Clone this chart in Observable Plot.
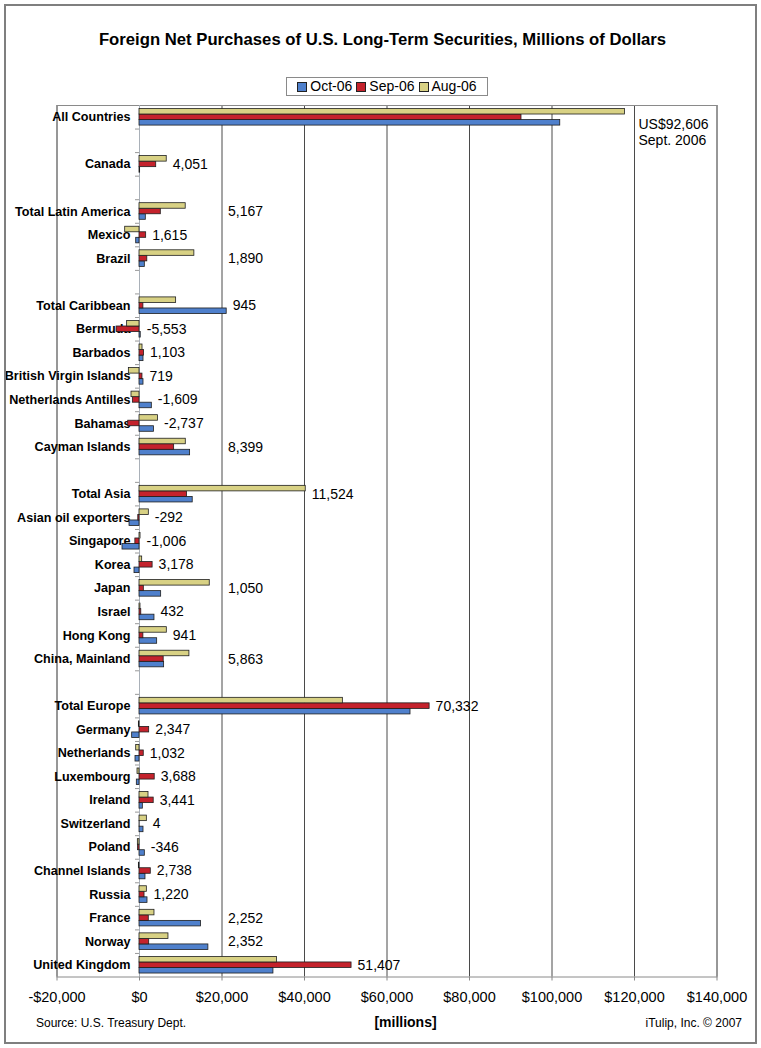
<!DOCTYPE html>
<html><head><meta charset="utf-8">
<script src="https://cdn.jsdelivr.net/npm/d3@7"></script>
<script src="https://cdn.jsdelivr.net/npm/@observablehq/plot@0.6"></script>
<style>
html,body{margin:0;padding:0;background:#fff;}
#wrap{position:relative;width:761px;height:1048px;overflow:hidden;font-family:"Liberation Sans",Arial,sans-serif;color:#000;}
#wrap svg{position:absolute;left:0;top:0;}
.ov{position:absolute;z-index:2;white-space:nowrap;}
#frame{position:absolute;left:4px;top:4px;width:753px;height:1040px;box-sizing:border-box;border:2px solid #7f7f7f;z-index:3;pointer-events:none;}
#title{left:2px;top:30px;width:761px;text-align:center;font-weight:bold;font-size:16.7px;line-height:20px;}
#legend{left:286px;top:77px;width:202px;height:19px;box-sizing:border-box;border:1px solid #8a8a8a;background:#fff;display:flex;align-items:center;justify-content:center;font-size:14px;line-height:17px;}
#legend .it{display:flex;align-items:center;margin:0 2px;}
#legend .sw{width:8px;height:8px;border:1px solid #222;margin-right:3px;}
#source{left:36px;top:1015px;font-size:12px;line-height:16px;}
#unit{left:374px;top:1014px;width:63px;text-align:center;font-size:14px;font-weight:bold;line-height:17px;}
#credit{right:19px;top:1015px;font-size:12px;line-height:16px;}
</style></head>
<body><div id="wrap"><div id="frame"></div></div>
<script>
const categories = ["All Countries", "", "Canada", "", "Total Latin America", "Mexico", "Brazil", "",
  "Total Caribbean", "Bermuda", "Barbados", "British Virgin Islands", "Netherlands Antilles", "Bahamas", "Cayman Islands", "",
  "Total Asia", "Asian oil exporters", "Singapore", "Korea", "Japan", "Israel", "Hong Kong", "China, Mainland", "",
  "Total Europe", "Germany", "Netherlands", "Luxembourg", "Ireland", "Switzerland", "Poland", "Channel Islands", "Russia", "France", "Norway", "United Kingdom"];
const oct06 = [102000, null, 150, null, 1530, -800, 1290, null,
  21140, 300, 970, 970, 2990, 3510, 12270, null,
  12900, -2420, -4120, -1210, 5250, 3630, 4280, 5970, null,
  65700, -1780, -970, -650, 810, 970, 1290, 1450, 1940, 14930, 16700, 32470];
const sep06 = [92606, null, 4051, null, 5167, 1615, 1890, null,
  945, -5553, 1103, 719, -1609, -2737, 8399, null,
  11524, -292, -1006, 3178, 1050, 432, 941, 5863, null,
  70332, 2347, 1032, 3688, 3441, 4, -346, 2738, 1220, 2252, 2352, 51407];
const aug06 = [117700, null, 6600, null, 11200, -3470, 13300, null,
  8880, -3000, 730, -2580, -1940, 4480, 11220, null,
  40300, 2260, 250, 650, 17030, 240, 6620, 12100, null,
  49300, -150, -800, -480, 2180, 1780, -400, -150, 1780, 3630, 7020, 33350];
const seriesNames = ["Oct-06", "Sep-06", "Aug-06"];
const xTicks = [-20000, 0, 20000, 40000, 60000, 80000, 100000, 120000, 140000];
const noteMonth = "Sept. 2006";
const titleText = "Foreign Net Purchases of U.S. Long-Term Securities, Millions of Dollars";
const sourceText = "Source: U.S. Treasury Dept.";
const unitText = "[millions]";
const creditText = "iTulip, Inc. \u00A9 2007";

const palette = ["#4f80cc", "#c4222c", "#d8d184"];
const fmt = v => (v < 0 ? "-" : "") + d3.format(",")(Math.abs(v));

const seriesArrays = {"Oct-06": oct06, "Sep-06": sep06, "Aug-06": aug06};
const offset = {"Aug-06": -1, "Sep-06": 0, "Oct-06": 1};
const barH = 0.235;
const bars = [];
const rows = [];
categories.forEach((name, i) => {
  if (!name) return;
  rows.push({name, slot: i});
  for (const s of seriesNames) {
    bars.push({slot: i, series: s, value: seriesArrays[s][i], pos: i + offset[s] * barH});
  }
});
const valueLabels = rows.filter(r => r.slot !== 0).map(r => {
  let m = Math.max(0, oct06[r.slot], sep06[r.slot], aug06[r.slot]);
  if (m > 10000) m = Math.max(m, 20000);
  return {slot: r.slot, at: m, text: fmt(sep06[r.slot])};
});
const bounds = d3.range(categories.length - 1).map(i => i + 0.5);
const note = "US$" + fmt(sep06[0]) + "\n" + noteMonth;

const chart = Plot.plot({
  width: 761, height: 1048,
  marginLeft: 56.5, marginRight: 44.5, marginTop: 105, marginBottom: 71.5,
  style: {fontFamily: '"Liberation Sans", Arial, sans-serif', background: "transparent", color: "#000"},
  x: {domain: [xTicks[0], xTicks[xTicks.length - 1]]},
  y: {domain: [-0.5, categories.length - 0.5], reverse: true, axis: null},
  color: {domain: seriesNames, range: palette},
  marks: [
    Plot.ruleX(xTicks.filter(d => d !== 0), {stroke: "#4a4a4a", strokeWidth: 1}),
    Plot.frame({stroke: "#8a8a8a"}),
    Plot.ruleX([0], {stroke: "#a9b0b8"}),
    Plot.ruleY(bounds, {y: d => d, x1: () => 0, x2: () => 0, insetLeft: -4, stroke: "#999"}),
    Plot.text(rows, {x: () => 0, y: "slot", text: "name", dx: -9, textAnchor: "end", fontWeight: "bold", fontSize: 12.6}),
    Plot.rect(bars, {x1: () => 0, x2: "value", y1: d => d.pos - barH / 2, y2: d => d.pos + barH / 2,
      fill: "series", stroke: "#1e1e1e", strokeWidth: 0.8}),
    Plot.text(valueLabels, {x: "at", y: "slot", text: "text", dx: 6, textAnchor: "start", fontSize: 14}),
    Plot.text([note], {x: () => xTicks[xTicks.length - 2], frameAnchor: "top", text: d => d,
      lineAnchor: "top", textAnchor: "start", dx: 4, dy: 12, fontSize: 14, lineHeight: 1.15}),
    Plot.axisX(xTicks, {tickSize: 4, tickPadding: 11, tickFormat: d => (d < 0 ? "-$" : "$") + d3.format(",")(Math.abs(d)),
      fontSize: 14.5, label: null, stroke: "#888"})
  ]
});

const wrap = document.getElementById("wrap");
wrap.insertBefore(chart, wrap.firstChild);

function addDiv(id, html) {
  const d = document.createElement("div");
  d.id = id; d.className = "ov"; d.innerHTML = html;
  wrap.appendChild(d);
  return d;
}
addDiv("title", titleText);
addDiv("legend", seriesNames.map((s, i) =>
  `<span class="it"><span class="sw" style="background:${palette[i]}"></span>${s}</span>`).join(""));
addDiv("source", sourceText);
addDiv("unit", unitText);
addDiv("credit", creditText);
</script>
</body></html>
